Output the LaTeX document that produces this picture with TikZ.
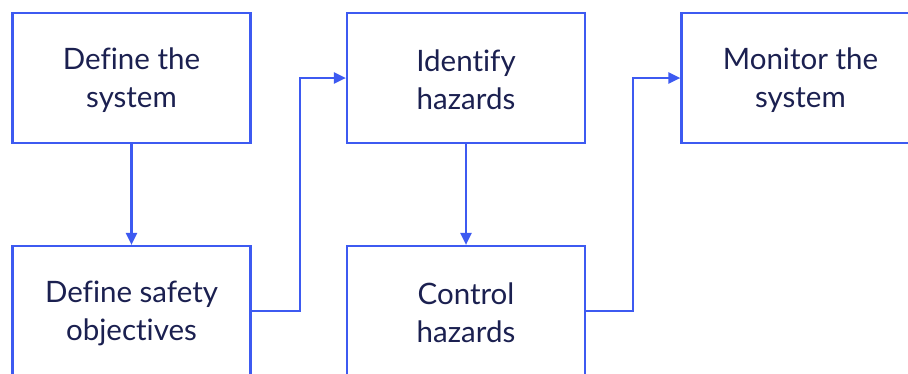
\documentclass[tikz,border=0pt]{standalone}
\usepackage{fontspec}
\setmainfont{Lato}[Ligatures=NoCommon]
\usetikzlibrary{arrows.meta}
\definecolor{lineblue}{HTML}{3D5AF1}
\definecolor{txt}{HTML}{1B2050}
\begin{document}
\begin{tikzpicture}[x=1pt,y=-1pt,
  box/.style={draw=lineblue,line width=2.2pt,minimum width=238pt,minimum height=130pt,
    align=center,text=txt,font=\fontsize{29.5}{38}\selectfont,inner sep=0pt},
  lbl/.style={align=center,text=txt,font=\fontsize{29.5}{38}\selectfont,inner sep=0pt},
  conn/.style={draw=lineblue,line width=2.2pt,-{Triangle[length=12pt,width=11pt]}}]
\useasboundingbox (0,0) rectangle (908,373);
\begin{scope}
\clip (0,0) rectangle (908,373);
\node[box] (sys) at (131.5,78) {};
\node[box] (obj) at (131.5,311) {};
\node[box] (id) at (466,78) {};
\node[box] (ctl) at (466,311) {};
\node[box] (mon) at (800.5,78) {};
\end{scope}
\node[lbl] (t1) at (131.5,80) {Define the\\system};
\node[lbl] (t2) at (131.5,313) {Define safety\\objectives};
\node[lbl] (t3) at (466,80) {Identify\\hazards};
\node[lbl] (t4) at (466,313) {Control\\hazards};
\node[lbl] (t5) at (800.5,80) {Monitor the\\system};
\draw[conn] (sys.south) -- (obj.north);
\draw[conn] (id.south) -- (ctl.north);
\draw[conn] (obj.east) -| (300,78) -- (id.west);
\draw[conn] (ctl.east) -| (633,78) -- (mon.west);
\end{tikzpicture}
\end{document}
